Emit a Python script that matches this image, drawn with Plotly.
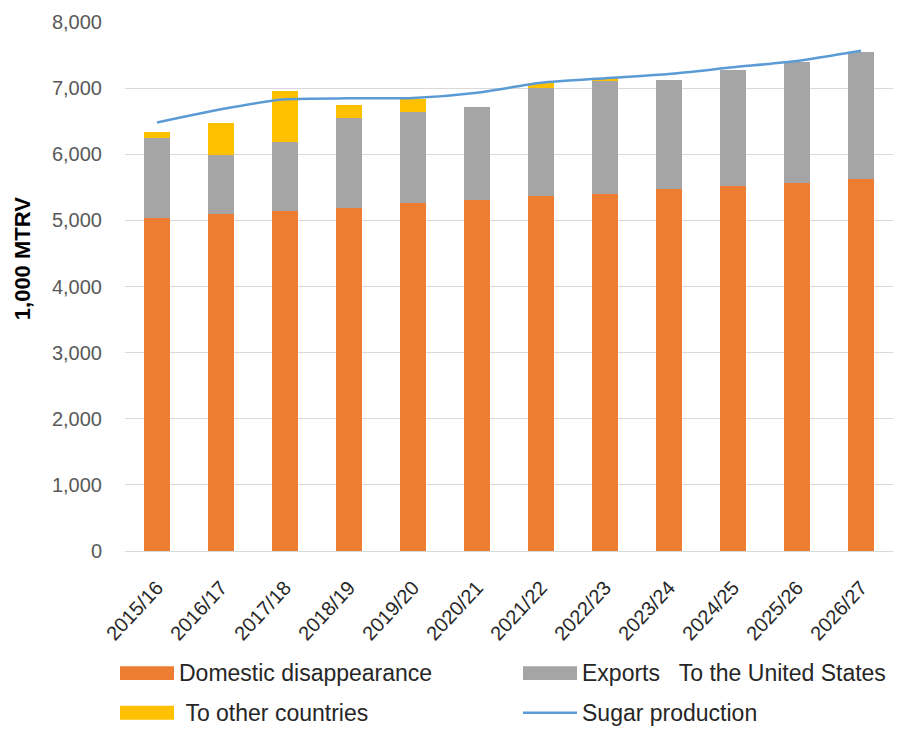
import plotly.graph_objects as go

years = ["2015/16", "2016/17", "2017/18", "2018/19", "2019/20", "2020/21",
         "2021/22", "2022/23", "2023/24", "2024/25", "2025/26", "2026/27"]

# 1,000 metric tons, raw value
domestic = [5040, 5090, 5140, 5185, 5265, 5305, 5365, 5405, 5475, 5525, 5570, 5625]
exports_us = [1200, 905, 1050, 1360, 1375, 1415, 1640, 1710, 1650, 1755, 1820, 1915]
exports_other = [95, 485, 770, 200, 190, 0, 75, 40, 0, 0, 0, 0]
production = [6480, 6680, 6830, 6845, 6850, 6930, 7080, 7150, 7215, 7315, 7410, 7565]

ORANGE = "#ED7D31"
GREY = "#A5A5A5"
GOLD = "#FFC000"
BLUE = "#5B9BD5"
FONT = "Liberation Sans, Arial, sans-serif"

fig = go.Figure()
fig.add_trace(go.Bar(x=years, y=domestic, name="Domestic disappearance",
                     marker=dict(color=ORANGE, line=dict(width=0))))
fig.add_trace(go.Bar(x=years, y=exports_us, name="Exports   To the United States",
                     marker=dict(color=GREY, line=dict(width=0))))
fig.add_trace(go.Bar(x=years, y=exports_other, name=" To other countries",
                     marker=dict(color=GOLD, line=dict(width=0))))
fig.add_trace(go.Scatter(x=years, y=production, name="Sugar production", mode="lines",
                         line=dict(color=BLUE, width=2.5, shape="spline", smoothing=0.6)))

# Legend drawn below the plot area: two columns, wide swatches
legend_rows = [
    ("rect", ORANGE, "Domestic disappearance", 0, 0),
    ("rect", GREY, "Exports\u00a0\u00a0 To the United States", 1, 0),
    ("rect", GOLD, "\u00a0To other countries", 0, 1),
    ("line", BLUE, "Sugar production", 1, 1),
]
plot_w, plot_h = 768, 533
col_x = [(120 - 125) / plot_w, (523 - 125) / plot_w]
sw_w = 54 / plot_w
row_y = [(551 - 674) / plot_h, (551 - 714) / plot_h]
half_h = 7 / plot_h
shapes = []
annotations = []
for kind, color, label, col, row in legend_rows:
    x0 = col_x[col]
    y = row_y[row]
    if kind == "rect":
        shapes.append(dict(type="rect", xref="paper", yref="paper",
                           x0=x0, x1=x0 + sw_w, y0=y - half_h, y1=y + half_h,
                           fillcolor=color, line=dict(width=0)))
    else:
        shapes.append(dict(type="line", xref="paper", yref="paper",
                           x0=x0, x1=x0 + sw_w, y0=y, y1=y,
                           line=dict(color=color, width=2.5)))
    annotations.append(dict(xref="paper", yref="paper", x=x0 + sw_w + 3 / plot_w, y=y,
                            text=label, showarrow=False, xanchor="left", yanchor="middle",
                            font=dict(family=FONT, size=23, color="#262626")))

# Value-axis title
annotations.append(dict(xref="paper", yref="paper", x=(22 - 125) / plot_w,
                        y=(551 - 257) / plot_h, text="<b>1,000 MTRV</b>", textangle=-90,
                        showarrow=False, xanchor="center", yanchor="middle",
                        font=dict(family=FONT, size=22, color="#000000")))

fig.update_layout(
    width=904, height=729,
    margin=dict(l=125, r=11, t=18, b=178),
    barmode="stack", bargap=0.6,
    plot_bgcolor="white", paper_bgcolor="white",
    font=dict(family=FONT, color="#595959"),
    showlegend=False,
    shapes=shapes, annotations=annotations,
    xaxis=dict(tickangle=-47, tickfont=dict(size=20, color="#262626"),
               showgrid=False, showline=False, ticks="", ticklabelstandoff=20),
    yaxis=dict(range=[0, 8000], dtick=1000, tickformat=",d",
               tickfont=dict(size=20, color="#595959"),
               gridcolor="#D9D9D9", gridwidth=1, zeroline=True,
               zerolinecolor="#D9D9D9", zerolinewidth=1, showline=False,
               ticks="", ticklabelstandoff=22),
)

fig.write_html("out.html")
